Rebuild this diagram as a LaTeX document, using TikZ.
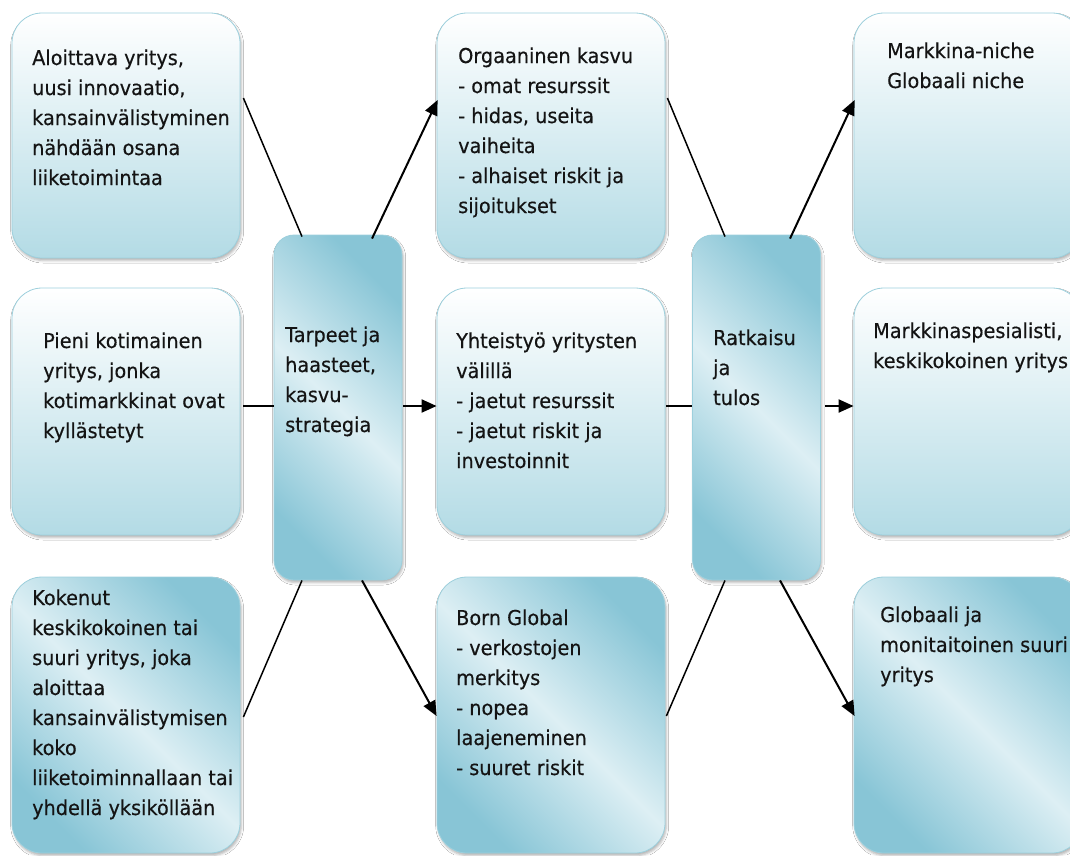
\documentclass[tikz,border=0pt]{standalone}
\usepackage{fontspec}
\newfontfamily\boxfont{DejaVu Sans}[FakeStretch=0.94,FakeBold=0.4]
\usetikzlibrary{arrows.meta,shadows.blur}

\definecolor{edgeblue}{HTML}{9DD0DD}
\definecolor{fadeblue}{HTML}{B3DBE5}
\definecolor{deepblue}{HTML}{88C5D6}
\definecolor{paleblue}{HTML}{DDEFF4}
\definecolor{ink}{HTML}{141414}

% multi-line text whose reference point is the first baseline
\newcommand\stack[1]{\begin{tabular}[t]{@{}l@{}}#1\end{tabular}}

\tikzset{
  panel/.style={rectangle, draw=edgeblue, line width=0.8pt, inner sep=0pt,
    blur shadow={shadow xshift=1.2pt, shadow yshift=-2.5pt,
      shadow blur radius=2.5pt, shadow opacity=30}},
  squarebox/.style={panel, rounded corners=30pt, minimum width=228pt},
  tallbox/.style={panel, rounded corners=20pt, minimum width=128pt, minimum height=345pt},
  plainfill/.style={top color=white, bottom color=fadeblue},
  diagfill/.style={top color=deepblue, bottom color=deepblue, middle color=paleblue,
    shading angle=-45},
  txt/.style={anchor=base west, inner sep=0pt, text=ink,
    font=\boxfont\fontsize{20.5}{30}\selectfont},
  link/.style={draw=black, line width=1.5pt},
  flow/.style={draw=black, line width=2pt, -{Triangle[length=15pt,width=13pt]}}
}

\begin{document}
\begin{tikzpicture}[x=1pt,y=-1pt]
\useasboundingbox (0,0) rectangle (1070,855);
\fill[white] (0,0) rectangle (1070,855);

% starting situations
\node[squarebox, plainfill, minimum height=245pt] (start1) at (126,135.5) {};
\node[squarebox, plainfill, minimum height=247pt] (start2) at (126,411.5) {};
\node[squarebox, diagfill, minimum height=276pt] (start3) at (126,715) {};

% needs
\node[tallbox, diagfill] (needs) at (338,407.5) {};

% growth strategies
\node[squarebox, plainfill, minimum height=245pt] (organic) at (551,135.5) {};
\node[squarebox, plainfill, minimum height=247pt] (coop) at (551,411.5) {};
\node[squarebox, diagfill, minimum height=276pt] (born) at (551,715) {};

% outcome
\node[tallbox, diagfill] (outcome) at (756.5,407.5) {};

% resulting company types
\node[squarebox, plainfill, minimum height=245pt] (niche) at (968,135.5) {};
\node[squarebox, plainfill, minimum height=247pt] (special) at (968,411.5) {};
\node[squarebox, diagfill, minimum height=276pt] (globalco) at (968,715) {};

% texts
\node[txt] (t1) at (32,65) {\stack{Aloittava yritys,\\ uusi innovaatio,\\ kansainvälistyminen\\ nähdään osana\\ liiketoimintaa}};
\node[txt] (t2) at (43,348) {\stack{Pieni kotimainen\\ yritys, jonka\\ kotimarkkinat ovat\\ kyllästetyt}};
\node[txt] (t3) at (32,605) {\stack{Kokenut\\ keskikokoinen tai\\ suuri yritys, joka\\ aloittaa\\ kansainvälistymisen\\ koko\\ liiketoiminnallaan tai\\ yhdellä yksiköllään}};
\node[txt] (t4) at (285,342) {\stack{Tarpeet ja\\ haasteet,\\ kasvu-\\ strategia}};
\node[txt] (t5) at (458,63) {\stack{Orgaaninen kasvu\\ - omat resurssit\\ - hidas, useita\\ vaiheita\\ - alhaiset riskit ja\\ sijoitukset}};
\node[txt] (t6) at (456,348) {\stack{Yhteistyö yritysten\\ välillä\\ - jaetut resurssit\\ - jaetut riskit ja\\ investoinnit}};
\node[txt] (t7) at (456,625) {\stack{Born Global\\ - verkostojen\\ merkitys\\ - nopea\\ laajeneminen\\ - suuret riskit}};
\node[txt] (t8) at (713,345) {\stack{Ratkaisu\\ ja\\ tulos}};
\node[txt] (t9) at (887,58) {\stack{Markkina-niche\\ Globaali niche}};
\node[txt] (t10) at (873,338) {\stack{Markkinaspesialisti,\\ keskikokoinen yritys}};
\node[txt] (t11) at (880,622) {\stack{Globaali ja\\ monitaitoinen suuri\\ yritys}};

% connectors into the needs column
\draw[link] ([xshift=3pt,yshift=37.5pt]start1.east) -- ([xshift=-36pt,yshift=-2pt]needs.north);
\draw[link] ([xshift=3pt,yshift=5.5pt]start2.east) -- ([yshift=1.5pt]needs.west);
\draw[link] ([xshift=3pt,yshift=-2pt]start3.east) -- ([xshift=-36pt]needs.south);

% needs to strategies
\draw[flow] ([xshift=34pt,yshift=-4pt]needs.north) -- ([xshift=1pt,yshift=35.5pt]organic.west);
\draw[flow] ([xshift=1pt,yshift=1.5pt]needs.east) -- ([yshift=5.5pt]coop.west);
\draw[flow] ([xshift=24pt]needs.south) -- ([yshift=-1pt]born.west);

% strategies into outcome
\draw[link] ([xshift=2pt,yshift=37.5pt]organic.east) -- ([xshift=-31.5pt,yshift=-2pt]outcome.north);
\draw[link] ([xshift=1pt,yshift=5.5pt]coop.east) -- ([yshift=1.5pt]outcome.west);
\draw[link] ([xshift=1pt,yshift=-1pt]born.east) -- ([xshift=-31.5pt]outcome.south);

% outcome to company types
\draw[flow] ([xshift=33.5pt,yshift=-4pt]outcome.north) -- ([xshift=1pt,yshift=35.5pt]niche.west);
\draw[flow] ([xshift=4pt,yshift=1.5pt]outcome.east) -- ([yshift=5.5pt]special.west);
\draw[flow] ([xshift=23.5pt]outcome.south) -- ([xshift=1pt,yshift=-1pt]globalco.west);
\end{tikzpicture}
\end{document}
